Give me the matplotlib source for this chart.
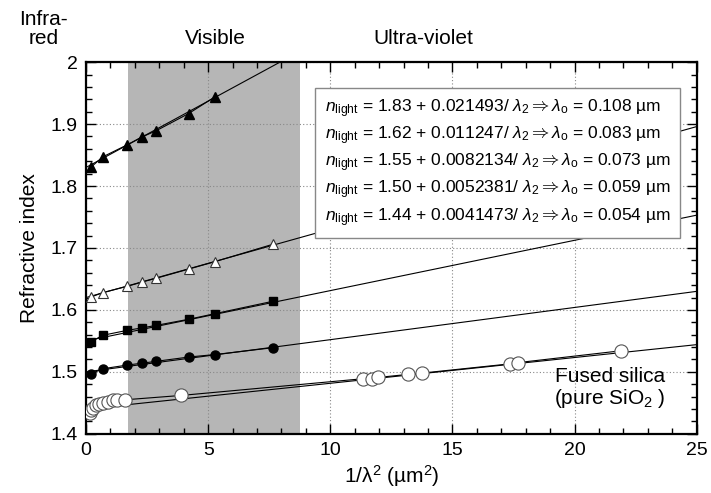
import numpy as np
import matplotlib
matplotlib.use('Agg')
import matplotlib.pyplot as plt
from matplotlib.ticker import MultipleLocator, FormatStrFormatter

plt.rcParams['font.family'] = ['Liberation Sans', 'DejaVu Sans']
plt.rcParams['mathtext.fontset'] = 'custom'
plt.rcParams['mathtext.rm'] = 'Liberation Sans'
plt.rcParams['mathtext.it'] = 'Liberation Sans:italic'

# measured points (x = 1/lambda^2 in um^-2, y = refractive index)
tri_x = [0.22, 0.68, 1.66, 2.28, 2.86, 4.20, 5.28]
tri_y = [1.831, 1.847, 1.866, 1.879, 1.889, 1.917, 1.944]

otri_x = [0.22, 0.68, 1.68, 2.29, 2.86, 4.21, 5.28, 7.65]
otri_y = [1.621, 1.628, 1.638, 1.645, 1.651, 1.666, 1.678, 1.706]

sq_x = [0.22, 0.68, 1.68, 2.29, 2.86, 4.21, 5.28, 7.65]
sq_y = [1.549, 1.559, 1.567, 1.571, 1.575, 1.585, 1.594, 1.614]

circ_x = [0.22, 0.68, 1.68, 2.29, 2.86, 4.21, 5.28, 7.65]
circ_y = [1.497, 1.505, 1.511, 1.514, 1.517, 1.524, 1.528, 1.539]

silica_x = [0.15, 0.22, 0.30, 0.40, 0.53, 0.71, 0.90, 1.12, 1.28, 1.61, 3.90,
            11.35, 11.70, 11.95, 13.19, 13.74, 17.36, 17.69, 21.88]
silica_y = [1.433, 1.439, 1.442, 1.446, 1.448, 1.450, 1.452, 1.454, 1.454, 1.455, 1.462,
            1.489, 1.489, 1.491, 1.496, 1.498, 1.513, 1.515, 1.534]

# fitted lines, end points
fit_x0 = [0, 0, 0, 0, 0]
fit_y0 = [1.83, 1.62, 1.55, 1.50, 1.44]
fit_x1 = [7.94, 25, 25, 25, 25]
fit_y1 = [2.0, 1.896, 1.753, 1.630, 1.544]

fit_labels = [
    r'$n_{\rm light}$ = 1.83 + 0.021493/ $\lambda_2 \Rightarrow \lambda_{\rm o}$ = 0.108 µm',
    r'$n_{\rm light}$ = 1.62 + 0.011247/ $\lambda_2 \Rightarrow \lambda_{\rm o}$ = 0.083 µm',
    r'$n_{\rm light}$ = 1.55 + 0.0082134/ $\lambda_2 \Rightarrow \lambda_{\rm o}$ = 0.073 µm',
    r'$n_{\rm light}$ = 1.50 + 0.0052381/ $\lambda_2 \Rightarrow \lambda_{\rm o}$ = 0.059 µm',
    r'$n_{\rm light}$ = 1.44 + 0.0041473/ $\lambda_2 \Rightarrow \lambda_{\rm o}$ = 0.054 µm',
]

visible_lo = 1.72
visible_hi = 8.75

fig = plt.figure(figsize=(7.11, 4.93), dpi=100)
ax = fig.add_axes([0.121, 0.120, 0.859, 0.754])

# visible band
ax.axvspan(visible_lo, visible_hi, color='#b6b6b6', zorder=0, lw=0)

# grid
ax.grid(True, which='major', color='#888888', linestyle=(0, (1, 2)), lw=0.8, zorder=1)

# fit lines
for i in range(5):
    ax.plot([fit_x0[i], fit_x1[i]], [fit_y0[i], fit_y1[i]], color='black', lw=0.8, zorder=2)

# data lines + markers
ax.plot(tri_x, tri_y, color='black', lw=0.8, marker='^', ms=6.5, mfc='black', mec='black', zorder=3)
ax.plot(otri_x, otri_y, color='black', lw=0.8, marker='^', ms=6.5, mfc='white', mec='#333333', mew=0.8, zorder=3)
ax.plot(sq_x, sq_y, color='black', lw=0.8, marker='s', ms=6, mfc='black', mec='black', zorder=3)
ax.plot(circ_x, circ_y, color='black', lw=0.8, marker='o', ms=6.5, mfc='black', mec='black', zorder=3)
ax.plot(silica_x, silica_y, color='black', lw=0.8, marker='o', ms=9.5, mfc='white', mec='#555555', mew=0.8, zorder=3)

ax.set_xlim(0, 25)
ax.set_ylim(1.4, 2.0)
ax.xaxis.set_major_locator(MultipleLocator(5))
ax.xaxis.set_minor_locator(MultipleLocator(1))
ax.yaxis.set_major_locator(MultipleLocator(0.1))
ax.yaxis.set_minor_locator(MultipleLocator(0.02))
ax.yaxis.set_major_formatter(FormatStrFormatter('%g'))
ax.tick_params(which='both', direction='in', top=True, right=True, labelsize=14, width=1.0)
ax.tick_params(which='major', length=7, pad=6)
ax.tick_params(which='minor', length=4)
for s in ax.spines.values():
    s.set_linewidth(1.6)

ax.set_xlabel('1/λ$^2$ (µm$^2$)', fontsize=15, labelpad=3)
ax.set_ylabel('Refractive index', fontsize=15, labelpad=8)

# region labels
ax.text(-1.75, 2.022, 'Infra-\nred', fontsize=15, ha='center', va='bottom', linespacing=1.05)
ax.text(5.28, 2.022, 'Visible', fontsize=15, ha='center', va='bottom')
ax.text(13.8, 2.022, 'Ultra-violet', fontsize=15, ha='center', va='bottom')

ax.text(21.44, 1.473, 'Fused silica\n(pure SiO$_2$ )', fontsize=15, ha='center', va='center',
        linespacing=1.05, zorder=5)

# fit equations box
box_txt = '\n'.join(fit_labels)
ax.text(9.78, 1.837, box_txt, fontsize=12.5, ha='left', va='center', linespacing=1.3, zorder=6,
        bbox=dict(boxstyle='square,pad=0.55', fc='white', ec='#888888', lw=1.0))

fig.savefig('out.png', dpi=100)
